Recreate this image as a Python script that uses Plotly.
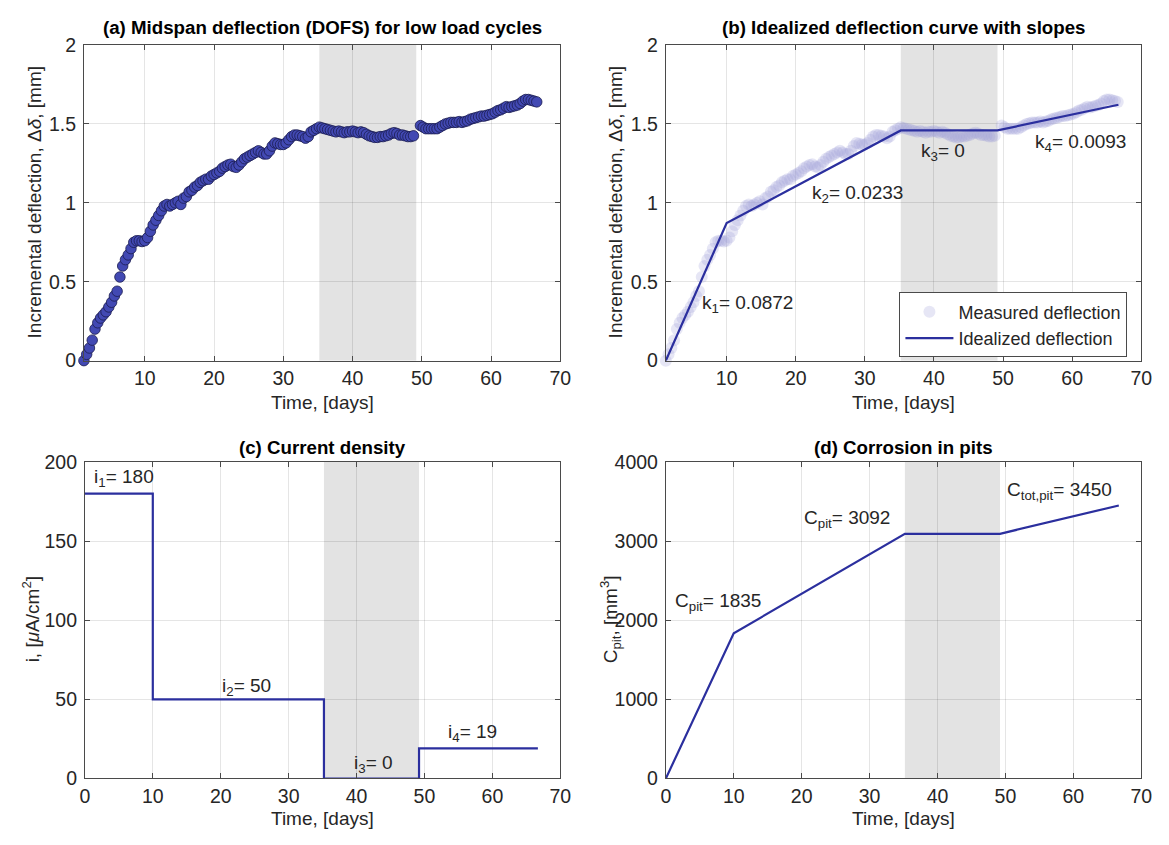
import plotly.graph_objects as go

W, H = 1169, 845

# ---------------- data ----------------
# Midspan deflection measured by DOFS (low load cycles)
time_days = [
    1.2, 1.6, 2.0, 2.4, 2.8, 3.2, 3.6, 4.0, 4.4, 4.8, 5.2, 5.6, 6.0, 6.4, 6.8, 7.2, 7.6, 8.0, 8.4, 8.8,
    9.2, 9.6, 10.0, 10.4, 10.8, 11.2, 11.6, 12.0, 12.4, 12.8, 13.2, 13.6, 14.0, 14.4, 14.8, 15.2, 15.6, 16.0,
    16.4, 16.8, 17.2, 17.6, 18.0, 18.4, 18.8, 19.2, 19.6, 20.0, 20.4, 20.8, 21.2, 21.6, 22.0, 22.4, 22.8,
    23.2, 23.6, 24.0, 24.4, 24.8, 25.2, 25.6, 26.0, 26.4, 26.8, 27.2, 27.6, 28.0, 28.4, 28.8, 29.2, 29.6,
    30.0, 30.4, 30.8, 31.2, 31.6, 32.0, 32.4, 32.8, 33.2, 33.6, 34.0, 34.4, 34.8, 35.2, 35.6, 36.0, 36.4,
    36.8, 37.2, 37.6, 38.0, 38.4, 38.8, 39.2, 39.6, 40.0, 40.4, 40.8, 41.2, 41.6, 42.0, 42.4, 42.8, 43.2,
    43.6, 44.0, 44.4, 44.8, 45.2, 45.6, 46.0, 46.4, 46.8, 47.2, 47.6, 48.0, 48.4, 48.8,
    49.8, 50.2, 50.6, 51.0, 51.4, 51.8, 52.2, 52.6, 53.0, 53.4, 53.8, 54.2, 54.6, 55.0, 55.4, 55.8, 56.2,
    56.6, 57.0, 57.4, 57.8, 58.2, 58.6, 59.0, 59.4, 59.8, 60.2, 60.6, 61.0, 61.4, 61.8, 62.2, 62.6, 63.0,
    63.4, 63.8, 64.2, 64.6, 65.0, 65.4, 65.8, 66.2, 66.6,
]
deflection_mm = [
    0.00, 0.04, 0.08, 0.13, 0.20, 0.24, 0.27, 0.29, 0.31, 0.34, 0.37, 0.41, 0.44, 0.53, 0.60, 0.64, 0.67, 0.71, 0.75, 0.76,
    0.76, 0.755, 0.76, 0.78, 0.82, 0.86, 0.89, 0.92, 0.95, 0.98, 0.99, 0.98, 0.99, 1.00, 1.01, 0.99, 1.03, 1.04,
    1.07, 1.08, 1.10, 1.11, 1.13, 1.14, 1.15, 1.15, 1.17, 1.18, 1.19, 1.20, 1.22, 1.23, 1.24, 1.245, 1.23,
    1.225, 1.24, 1.26, 1.28, 1.29, 1.30, 1.31, 1.32, 1.33, 1.32, 1.31, 1.31, 1.33, 1.36, 1.38, 1.375, 1.37,
    1.37, 1.38, 1.40, 1.42, 1.43, 1.43, 1.425, 1.42, 1.41, 1.42, 1.45, 1.46, 1.47, 1.48, 1.475, 1.47, 1.465,
    1.46, 1.455, 1.45, 1.455, 1.45, 1.445, 1.45, 1.45, 1.455, 1.45, 1.445, 1.45, 1.445, 1.435, 1.425, 1.42, 1.415,
    1.415, 1.42, 1.42, 1.425, 1.43, 1.44, 1.445, 1.44, 1.43, 1.43, 1.425, 1.42, 1.42, 1.425,
    1.49, 1.48, 1.47, 1.47, 1.47, 1.47, 1.47, 1.48, 1.49, 1.50, 1.505, 1.51, 1.51, 1.51, 1.515, 1.51, 1.515,
    1.52, 1.53, 1.535, 1.54, 1.545, 1.55, 1.55, 1.555, 1.56, 1.565, 1.575, 1.585, 1.59, 1.60, 1.61, 1.605, 1.61,
    1.615, 1.62, 1.63, 1.645, 1.655, 1.655, 1.65, 1.645, 1.64,
]

# Phase boundaries [days] and idealized slopes [mm/day]
phase_bounds = [0.0, 10.0, 35.2, 49.2, 66.7]
slopes = [0.0872, 0.0233, 0.0, 0.0093]
slope_labels = ["k<sub>1</sub>= 0.0872", "k<sub>2</sub>= 0.0233", "k<sub>3</sub>= 0", "k<sub>4</sub>= 0.0093"]

# Current density per phase [uA/cm2]
current_density = [180, 50, 0, 19]
current_labels = ["i<sub>1</sub>= 180", "i<sub>2</sub>= 50", "i<sub>3</sub>= 0", "i<sub>4</sub>= 19"]

# Corrosion in pits at the end of each phase [mm3]
pit_corrosion = [0, 1835, 3092, 3092, 3450]
pit_labels = ["C<sub>pit</sub>= 1835", "C<sub>pit</sub>= 3092", "C<sub>tot,pit</sub>= 3450"]

# Unloaded (rest) interval shown as a shaded band
rest_interval = [35.2, 49.2]

# ---------------- derived curves ----------------
ideal_t = [time_days[0]] + phase_bounds[1:]
ideal_d = [0.0]
level = slopes[0] * (phase_bounds[1] - phase_bounds[0])
ideal_d.append(level)
for k, (a, b) in zip(slopes[1:], zip(phase_bounds[1:-1], phase_bounds[2:])):
    level = level + k * (b - a)
    ideal_d.append(level)

step_t = phase_bounds
step_i = current_density + [current_density[-1]]

# ---------------- styling ----------------
FONT = "Liberation Sans, Arial, Helvetica, sans-serif"
TXT = "#262626"
LINE_BLUE = "#2b2f9e"
FILL_BLUE = "#4249b3"
EDGE_BLUE = "#1b1c4f"


def px_x(p):
    return p / W


def px_y(p):
    return 1 - p / H


fig = go.Figure()

# (a) measured deflection
fig.add_trace(go.Scatter(
    x=time_days, y=deflection_mm, mode="markers", showlegend=False,
    marker=dict(size=10.5, color=FILL_BLUE, line=dict(color=EDGE_BLUE, width=0.8)),
    cliponaxis=False, xaxis="x", yaxis="y"))

# (b) measured (faded) + idealized
fig.add_trace(go.Scatter(
    x=time_days, y=deflection_mm, mode="markers", name="Measured deflection",
    marker=dict(size=12, color="rgba(160,160,215,0.26)", line=dict(width=0)),
    cliponaxis=False, xaxis="x2", yaxis="y2"))
fig.add_trace(go.Scatter(
    x=ideal_t, y=ideal_d, mode="lines", name="Idealized deflection",
    line=dict(color=LINE_BLUE, width=2.2), xaxis="x2", yaxis="y2"))

# (c) current density
fig.add_trace(go.Scatter(
    x=step_t, y=step_i, mode="lines", line_shape="hv", showlegend=False,
    line=dict(color=LINE_BLUE, width=2.2), cliponaxis=False, xaxis="x3", yaxis="y3"))

# (d) corrosion in pits
fig.add_trace(go.Scatter(
    x=phase_bounds, y=pit_corrosion, mode="lines", showlegend=False,
    line=dict(color=LINE_BLUE, width=2.2), xaxis="x4", yaxis="y4"))

# panel geometry in pixels: left, right, top, bottom
panels = {
    "": (80, 563, 35, 359),
    "2": (670, 1152, 35, 359),
    "3": (81, 563, 463, 788),
    "4": (670, 1152, 463, 788),
}
xranges = {"": [1.2, 70], "2": [1.2, 70], "3": [0, 70], "4": [0, 70]}
yranges = {"": [0, 2], "2": [0, 2], "3": [0, 200], "4": [0, 4000]}
ydticks = {"": 0.5, "2": 0.5, "3": 50, "4": 1000}

axis_common = dict(
    showline=True, linecolor="#4a4a4a", linewidth=1, mirror="ticks",
    ticks="inside", ticklen=5, tickcolor="#4a4a4a",
    showgrid=True, gridcolor="rgba(0,0,0,0.10)", gridwidth=1,
    zeroline=False, tickfont=dict(family=FONT, size=19.5, color=TXT),
)

layout_axes = {}
for key, (l, r, t, b) in panels.items():
    layout_axes["xaxis" + key] = dict(
        axis_common, domain=[px_x(l), px_x(r)], range=xranges[key],
        tickmode="linear", tick0=0, dtick=10,
        anchor="y" + key)
    layout_axes["yaxis" + key] = dict(
        axis_common, domain=[px_y(b), px_y(t)], range=yranges[key],
        tickmode="linear", tick0=0, dtick=ydticks[key],
        ticklabelstandoff=3, anchor="x" + key)

shapes = []
for key in panels:
    shapes.append(dict(
        type="rect", xref="x" + key, yref="y" + key,
        x0=rest_interval[0], x1=rest_interval[1], y0=yranges[key][0], y1=yranges[key][1],
        fillcolor="#e3e3e3", line=dict(width=0), layer="below"))

annotations = []


def add_text(text, x, y, xref="paper", yref="paper", size=19, bold=False, angle=0,
             xanchor="center", yanchor="middle"):
    annotations.append(dict(
        text=f"<b>{text}</b>" if bold else text, x=x, y=y, xref=xref, yref=yref,
        showarrow=False, textangle=angle, xanchor=xanchor, yanchor=yanchor,
        font=dict(family=FONT, size=size, color=TXT if not bold else "#000000")))


# panel titles
TITLE_SIZE = 18.7
add_text("(a) Midspan deflection (DOFS) for low load cycles", px_x(321.5), px_y(17), size=TITLE_SIZE, bold=True)
add_text("(b) Idealized deflection curve with slopes", px_x(911), px_y(17), size=TITLE_SIZE, bold=True)
add_text("(c) Current density", px_x(322), px_y(448), size=TITLE_SIZE, bold=True)
add_text("(d) Corrosion in pits", px_x(911), px_y(448), size=TITLE_SIZE, bold=True)

# axis titles
for xc, yc in [(321.5, 402), (911, 402), (322, 829), (911, 829)]:
    add_text("Time, [days]", px_x(xc), px_y(yc), size=19)
add_text("Incremental deflection, Δ<i>δ</i>, [mm]", px_x(30), px_y(197), size=19, angle=-90)
add_text("Incremental deflection, Δ<i>δ</i>, [mm]", px_x(619), px_y(197), size=19, angle=-90)
add_text("i, [<i>μ</i>A/cm<sup>2</sup>]", px_x(26), px_y(625), size=19, angle=-90)
add_text("C<sub>pit</sub>, [mm<sup>3</sup>]", px_x(614), px_y(625), size=19, angle=-90)

# slope labels (b)
slope_pos = [(6.2, 0.36), (22.1, 1.055), (37.9, 1.32), (54.3, 1.38)]
for lab, (tx, ty) in zip(slope_labels, slope_pos):
    add_text(lab, tx, ty, xref="x2", yref="y2", size=19, xanchor="left")

# current labels (c)
cur_pos = [(1.0, 190), (19.9, 58), (39.3, 9), (53.2, 29)]
for lab, (tx, ty) in zip(current_labels, cur_pos):
    add_text(lab, tx, ty, xref="x3", yref="y3", size=19, xanchor="left")

# pit corrosion labels (d)
pit_pos = [(1.0, 2230), (20.0, 3280), (50.0, 3630)]
for lab, (tx, ty) in zip(pit_labels, pit_pos):
    add_text(lab, tx, ty, xref="x4", yref="y4", size=19, xanchor="left")

fig.update_layout(
    width=W, height=H, margin=dict(l=0, r=0, t=0, b=0),
    paper_bgcolor="white", plot_bgcolor="white",
    font=dict(family=FONT, color=TXT),
    shapes=shapes, annotations=annotations,
    legend=dict(
        x=px_x(1138), y=px_y(289), xanchor="right", yanchor="top",
        bgcolor="white", bordercolor="#4a4a4a", borderwidth=1,
        itemwidth=48, tracegroupgap=0,
        font=dict(family=FONT, size=18, color=TXT)),
    **layout_axes,
)

fig.write_html("out.html")
